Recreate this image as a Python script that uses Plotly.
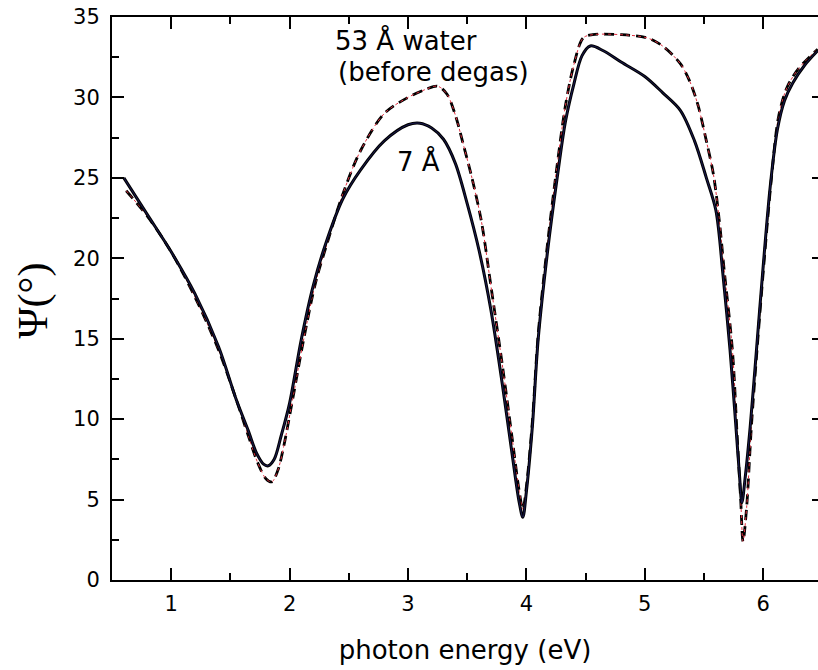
import plotly.graph_objects as go

# ---- data ----
x_7A = [0.60, 0.80, 1.00, 1.20, 1.40, 1.55, 1.65, 1.72, 1.78, 1.82, 1.87, 1.93, 2.00, 2.10, 2.20,
        2.30, 2.45, 2.60, 2.80, 3.00, 3.10, 3.20, 3.30, 3.40, 3.50, 3.60, 3.70, 3.80, 3.88, 3.94,
        3.97, 4.00, 4.05, 4.10, 4.18, 4.26, 4.33, 4.40, 4.47, 4.54, 4.65, 4.80, 5.00, 5.15, 5.30,
        5.42, 5.52, 5.60, 5.66, 5.72, 5.77, 5.80, 5.82, 5.85, 5.89, 5.94, 6.00, 6.06, 6.12, 6.18,
        6.25, 6.35, 6.46]
y_7A = [25.0, 22.7, 20.4, 17.8, 14.5, 11.2, 9.3, 7.9, 7.2, 7.1, 7.5, 9.0, 11.0, 15.0, 18.3,
        20.8, 23.7, 25.5, 27.3, 28.3, 28.4, 28.1, 27.4, 25.9, 23.4, 20.5, 16.8, 12.0, 7.8, 4.8,
        3.9, 5.5, 9.5, 15.0, 20.5, 25.0, 28.5, 30.8, 32.6, 33.2, 32.9, 32.2, 31.3, 30.3, 29.2,
        27.3, 25.0, 23.0, 19.0, 14.3, 9.5, 6.5, 4.8, 6.5, 9.5, 14.0, 19.5, 24.5, 28.0, 29.8,
        30.9, 32.0, 32.9]

x_53A = [0.62, 0.80, 1.00, 1.20, 1.40, 1.55, 1.65, 1.73, 1.80, 1.85, 1.90, 1.95, 2.02, 2.12, 2.22,
         2.32, 2.45, 2.60, 2.80, 3.00, 3.15, 3.25, 3.33, 3.40, 3.47, 3.54, 3.62, 3.70, 3.80, 3.88,
         3.94, 3.97, 4.00, 4.05, 4.10, 4.18, 4.26, 4.33, 4.40, 4.48, 4.56, 4.80, 5.02, 5.15, 5.30,
         5.38, 5.45, 5.52, 5.58, 5.63, 5.67, 5.74, 5.78, 5.81, 5.83, 5.86, 5.90, 5.95, 6.01, 6.07,
         6.13, 6.20, 6.30, 6.46]
y_53A = [24.2, 22.6, 20.4, 17.6, 14.3, 11.2, 9.0, 7.3, 6.3, 6.1, 6.8, 8.3, 11.0, 15.0, 18.5,
         21.0, 24.0, 26.7, 29.0, 30.0, 30.5, 30.7, 30.2, 28.9, 27.0, 25.0, 22.3, 18.3, 13.2, 8.8,
         5.5, 4.4, 5.8, 9.8, 15.3, 21.0, 25.8, 29.5, 32.0, 33.7, 33.9, 33.9, 33.7, 33.2, 32.1,
         31.0, 29.5, 27.3, 25.2, 22.3, 19.3, 14.3, 9.0, 5.0, 2.4, 4.5, 9.5, 14.5, 20.0, 25.0,
         28.8, 30.6, 31.8, 33.0]

x_range = [0.5, 6.463]
y_range = [0, 35]
x_ticks = [1, 2, 3, 4, 5, 6]
y_ticks = [0, 5, 10, 15, 20, 25, 30, 35]

FONT = "DejaVu Sans, sans-serif"
SERIF = "Liberation Serif, Times New Roman, serif"

fig = go.Figure()
fig.add_trace(go.Scatter(x=x_53A, y=y_53A, mode="lines",
                         line=dict(color="black", width=2.8, dash="10px,6px", shape="spline", smoothing=0.9),
                         hoverinfo="skip"))
fig.add_trace(go.Scatter(x=x_53A, y=y_53A, mode="lines",
                         line=dict(color="#e03040", width=1, dash="dot", shape="spline", smoothing=0.9),
                         hoverinfo="skip"))
fig.add_trace(go.Scatter(x=x_7A, y=y_7A, mode="lines",
                         line=dict(color="black", width=3, shape="spline", smoothing=0.9),
                         hoverinfo="skip"))
fig.add_trace(go.Scatter(x=x_7A, y=y_7A, mode="lines",
                         line=dict(color="#22226a", width=0.8, shape="spline", smoothing=0.9),
                         hoverinfo="skip"))
# invisible trace to anchor the right-hand tick axis
fig.add_trace(go.Scatter(x=[x_range[0]], y=[y_range[0]], yaxis="y2", mode="markers",
                         marker=dict(opacity=0), hoverinfo="skip"))

fig.update_layout(
    width=818, height=670,
    margin=dict(l=112, r=0, t=17, b=90),
    paper_bgcolor="white", plot_bgcolor="white",
    showlegend=False,
    font=dict(family=FONT, color="black"),
    xaxis=dict(range=x_range, tickvals=x_ticks, ticks="inside", ticklen=12, tickwidth=1.5,
               tickcolor="black", showline=True, linecolor="black", linewidth=2,
               mirror="ticks", showgrid=False, zeroline=False,
               tickfont=dict(size=21, family=FONT), ticklabelstandoff=4,
               minor=dict(tickvals=[0.5 + 0.5 * i for i in range(13)], ticks="inside",
                          ticklen=7, tickwidth=1.5, tickcolor="black"),
               title=dict(text="photon energy (eV)", font=dict(size=26, family=FONT), standoff=26)),
    yaxis=dict(range=y_range, tickvals=y_ticks, ticks="inside", ticklen=12, tickwidth=1.5,
               tickcolor="black", showline=True, linecolor="black", linewidth=2,
               showgrid=False, zeroline=False, tickfont=dict(size=21, family=FONT),
               ticklabelstandoff=6,
               minor=dict(tickvals=[2.5 + 5 * i for i in range(7)], ticks="inside",
                          ticklen=7, tickwidth=1.5, tickcolor="black")),
    yaxis2=dict(range=y_range, overlaying="y", anchor="free", position=1, side="right",
                tickvals=y_ticks, ticks="inside", ticklen=6, tickwidth=1.5, tickcolor="black",
                showticklabels=False, showline=False, showgrid=False, zeroline=False),
)

fig.add_annotation(text="Ψ(°)", xref="paper", yref="paper", x=-0.111, y=0.496,
                   xanchor="center", yanchor="middle",
                   textangle=-90, showarrow=False,
                   font=dict(size=42, family=SERIF))
fig.add_annotation(text="53 Å water", x=2.983, y=33.55, showarrow=False,
                   font=dict(size=26, family=FONT))
fig.add_annotation(text="(before degas)", x=3.215, y=31.57, showarrow=False,
                   font=dict(size=26, family=FONT))
fig.add_annotation(text="7 Å", x=3.09, y=26.0, showarrow=False,
                   font=dict(size=26, family=FONT))

fig.write_html("out.html")
